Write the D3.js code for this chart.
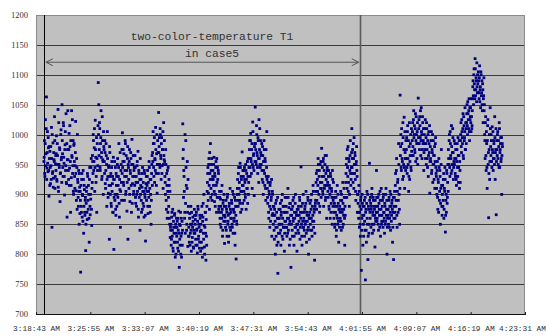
<!DOCTYPE html>
<html>
<head>
<meta charset="utf-8">
<script src="https://cdn.jsdelivr.net/npm/d3@7"></script>
<style>
  body { margin: 0; background: #fff; }
</style>
</head>
<body>
<script>
// tick labels of the time axis (every 7:12)
var xTickLabels = ['3:18:43 AM', '3:25:55 AM', '3:33:07 AM', '3:40:19 AM', '3:47:31 AM',
                   '3:54:43 AM', '4:01:55 AM', '4:09:07 AM', '4:16:19 AM', '4:23:31 AM'];
var yTicks = [700, 750, 800, 850, 900, 950, 1000, 1050, 1100, 1150, 1200];

// two vertical marker lines (start / end of case5)
var markerTimes = ['3:19:46 AM', '4:01:37 AM'];
var titleLines = ['two-color-temperature T1', 'in case5'];

// T1 readings, every 4 s starting at 3:19:46, 12 readings per row
var firstReading = '3:19:46 AM';
var readingStep = 4;
var t1 = [
  955, 990, 930, 1025, 968, 1063, 944, 1005, 938, 978, 897, 960,
  972, 918, 948, 1012, 845, 935, 986, 927, 958, 1030, 910, 951,
  940, 998, 922, 965, 1042, 905, 950, 978, 888, 936, 1008, 962,
  1050, 968, 930, 1015, 952, 899, 983, 940, 1035, 918, 862, 975,
  958, 925, 1002, 944, 980, 870, 915, 1040, 962, 935, 990, 900,
  985, 930, 948, 1022, 906, 960, 875, 925, 895, 940, 850, 912,
  905, 770, 880, 925, 862, 898, 940, 835, 915, 870, 890, 806,
  885, 912, 858, 930, 875, 900, 820, 945, 866, 892, 960, 848,
  920, 955, 1000, 940, 978, 905, 1024, 962, 930, 870, 985, 948,
  1087, 1050, 975, 1010, 940, 995, 962, 925, 1030, 958, 900, 980,
  955, 990, 918, 940, 965, 880, 1005, 930, 902, 948, 825, 970,
  900, 935, 880, 955, 918, 870, 962, 808, 925, 890, 945, 865,
  915, 880, 950, 895, 930, 985, 862, 908, 845, 940, 920, 975,
  1003, 955, 920, 968, 890, 940, 985, 905, 930, 872, 960, 825,
  945, 910, 975, 888, 935, 960, 870, 992, 918, 950, 900, 940,
  930, 965, 895, 920, 880, 948, 905, 972, 862, 935, 910, 840,
  900, 925, 870, 912, 945, 885, 905, 862, 935, 895, 822, 918,
  890, 915, 940, 868, 905, 955, 880, 925, 900, 850, 935, 965,
  970, 1005, 945, 985, 920, 958, 1012, 935, 968, 902, 990, 950,
  1037, 980, 950, 1010, 965, 925, 995, 948, 975, 910, 1020, 958,
  955, 920, 975, 890, 935, 860, 905, 945, 880, 915, 850, 828,
  840, 815, 862, 830, 875, 805, 845, 820, 868, 795, 850, 835,
  830, 855, 810, 840, 872, 778, 825, 848, 800, 860, 835, 815,
  1018, 975, 940, 905, 870, 835, 990, 915, 850, 955, 813, 880,
  845, 820, 868, 835, 880, 805, 850, 828, 862, 812, 840, 875,
  835, 858, 815, 870, 842, 802, 880, 825, 850, 810, 865, 838,
  850, 820, 880, 795, 862, 835, 900, 812, 845, 870, 790, 830,
  880, 920, 945, 902, 960, 875, 935, 985, 910, 950, 890, 925,
  940, 915, 962, 888, 930, 900, 955, 870, 920, 945, 895, 935,
  880, 905, 860, 892, 845, 870, 915, 830, 885, 865, 900, 818,
  862, 845, 890, 875, 830, 900, 855, 820, 880, 868, 910, 840,
  870, 890, 850, 905, 835, 875, 860, 895, 815, 880, 792, 855,
  900, 925, 880, 945, 910, 890, 952, 870, 930, 905, 971, 885,
  915, 940, 890, 925, 900, 950, 875, 935, 910, 885, 960, 920,
  960, 990, 930, 1002, 955, 975, 910, 1021, 945, 968, 898, 985,
  1046, 975, 950, 1000, 965, 935, 990, 920, 960, 1010, 945, 970,
  950, 985, 925, 965, 900, 940, 975, 915, 955, 890, 930, 1005,
  910, 885, 930, 860, 900, 845, 920, 875, 895, 830, 905, 868,
  850, 880, 825, 865, 800, 845, 890, 815, 860, 768, 835, 875,
  860, 835, 885, 815, 870, 850, 900, 825, 845, 880, 805, 855,
  870, 845, 895, 830, 860, 910, 840, 878, 815, 855, 885, 778,
  850, 875, 830, 890, 860, 815, 870, 845, 900, 835, 865, 805,
  865, 840, 880, 855, 895, 825, 870, 946, 850, 815, 885, 845,
  845, 870, 830, 880, 855, 905, 820, 865, 840, 890, 800, 860,
  860, 885, 840, 875, 900, 830, 855, 915, 845, 870, 790, 880,
  890, 920, 875, 940, 905, 960, 885, 930, 870, 950, 910, 895,
  977, 930, 905, 955, 880, 940, 915, 965, 895, 925, 860, 945,
  920, 895, 940, 875, 910, 860, 930, 885, 905, 850, 925, 890,
  870, 895, 845, 880, 905, 830, 865, 915, 850, 885, 820, 875,
  880, 860, 905, 840, 890, 870, 920, 850, 875, 895, 815, 865,
  920, 950, 895, 975, 930, 905, 960, 880, 940, 990, 915, 945,
  1010, 960, 935, 985, 910, 950, 970, 925, 890, 955, 940, 870,
  900, 870, 915, 845, 880, 830, 895, 773, 860, 885, 815, 850,
  865, 890, 840, 757, 875, 820, 905, 850, 791, 880, 835, 952,
  870, 895, 845, 880, 910, 835, 865, 890, 850, 875, 812, 860,
  880, 940, 855, 870, 895, 840, 885, 865, 905, 830, 875, 850,
  865, 890, 845, 900, 870, 835, 880, 855, 910, 875, 800, 860,
  875, 850, 895, 860, 905, 840, 880, 865, 890, 820, 870, 791,
  880, 905, 860, 935, 890, 960, 845, 920, 870, 985, 900, 850,
  1066, 980, 945, 1010, 960, 925, 995, 950, 1029, 910, 970, 940,
  960, 995, 935, 1015, 950, 905, 980, 925, 965, 1000, 940, 972,
  990, 1020, 965, 1040, 1000, 975, 1010, 955, 1030, 985, 1005, 950,
  1061, 1010, 985, 1030, 995, 965, 1045, 1000, 975, 1020, 990, 940,
  1000, 975, 1025, 985, 950, 1010, 960, 990, 930, 1005, 970, 902,
  980, 955, 1005, 940, 970, 920, 990, 950, 965, 910, 985, 945,
  930, 900, 955, 875, 920, 960, 890, 940, 850, 910, 975, 880,
  900, 880, 925, 860, 910, 945, 837, 890, 870, 935, 895, 950,
  975, 950, 1000, 930, 985, 960, 1015, 940, 970, 995, 925, 955,
  950, 985, 930, 960, 915, 975, 945, 995, 920, 965, 910, 940,
  990, 1020, 970, 1005, 985, 1035, 960, 1015, 995, 1045, 975, 1010,
  1020, 1050, 1000, 1035, 1010, 1060, 990, 1025, 1045, 1005, 1030, 1015,
  1060, 1090, 1050, 1110, 1075, 1127, 1065, 1095, 1055, 1080, 1100, 1070,
  1090, 1060, 1115, 1075, 1045, 1100, 1070, 1050, 1085, 1020, 1065, 1040,
  1000, 960, 1030, 940, 985, 910, 1015, 950, 861, 975, 925, 1045,
  980, 1000, 955, 1013, 970, 940, 990, 960, 1030, 925, 975, 866,
  990, 965, 1005, 950, 980, 1020, 945, 975, 995, 960, 900, 985
];

// the readings in between (every 4 s starting at 3:19:48)
var firstReadingB = '3:19:48 AM';
var t1b = [
  962, 935, 985, 948, 1010, 925, 970, 952, 995, 940, 980, 915,
  945, 980, 925, 960, 1000, 938, 912, 970, 955, 990, 930, 965,
  968, 925, 985, 950, 912, 1020, 945, 975, 935, 1000, 958, 920,
  990, 945, 1020, 962, 930, 975, 1005, 948, 920, 985, 958, 1040,
  940, 975, 915, 1015, 955, 990, 928, 965, 1025, 948, 905, 982,
  955, 910, 970, 935, 890, 945, 1000, 920, 880, 905, 935, 868,
  890, 915, 870, 935, 900, 855, 925, 880, 908, 865, 895, 850,
  905, 870, 935, 890, 915, 860, 925, 880, 900, 945, 875, 910,
  965, 935, 990, 955, 1010, 945, 975, 920, 995, 960, 940, 1015,
  1000, 965, 1020, 945, 985, 1040, 970, 930, 990, 955, 1005, 975,
  935, 970, 910, 985, 950, 925, 960, 895, 945, 915, 980, 930,
  915, 885, 945, 905, 930, 870, 925, 895, 955, 900, 875, 935,
  930, 900, 960, 915, 945, 885, 925, 970, 905, 950, 890, 935,
  945, 975, 915, 955, 930, 990, 900, 965, 940, 920, 980, 950,
  925, 955, 900, 940, 970, 915, 950, 885, 930, 965, 905, 945,
  915, 945, 885, 930, 900, 955, 920, 875, 940, 895, 925, 960,
  915, 890, 935, 875, 905, 920, 880, 940, 900, 865, 910, 930,
  905, 930, 880, 920, 895, 945, 910, 870, 925, 890, 950, 915,
  955, 985, 930, 995, 960, 940, 975, 915, 1000, 950, 970, 935,
  970, 995, 945, 1000, 960, 985, 935, 975, 1005, 950, 965, 990,
  930, 900, 950, 875, 915, 940, 870, 895, 925, 860, 905, 845,
  850, 825, 870, 840, 810, 855, 835, 865, 820, 845, 800, 860,
  845, 820, 860, 805, 835, 850, 815, 870, 830, 795, 855, 840,
  960, 895, 930, 860, 1000, 885, 945, 840, 910, 870, 925, 830,
  830, 860, 815, 850, 840, 870, 820, 845, 855, 810, 835, 865,
  850, 825, 865, 840, 815, 855, 875, 830, 845, 820, 860, 805,
  840, 865, 810, 855, 885, 825, 848, 800, 870, 835, 858, 815,
  905, 935, 890, 950, 915, 970, 925, 895, 940, 960, 900, 930,
  925, 950, 905, 935, 880, 945, 915, 960, 895, 925, 940, 875,
  870, 895, 850, 880, 905, 860, 875, 840, 890, 855, 880, 865,
  855, 880, 840, 870, 895, 850, 865, 830, 885, 845, 875, 860,
  860, 885, 845, 875, 900, 855, 870, 835, 890, 865, 880, 850,
  910, 890, 935, 900, 920, 885, 945, 905, 925, 875, 915, 940,
  930, 905, 945, 920, 895, 940, 925, 910, 955, 930, 900, 945,
  975, 945, 990, 960, 935, 985, 950, 1005, 965, 940, 980, 955,
  985, 955, 1015, 970, 945, 995, 960, 1025, 975, 950, 990, 965,
  965, 940, 980, 920, 955, 990, 935, 960, 910, 975, 945, 925,
  895, 920, 870, 905, 880, 915, 855, 890, 925, 865, 900, 880,
  865, 840, 875, 855, 885, 830, 870, 845, 895, 820, 860, 850,
  850, 875, 840, 865, 890, 830, 860, 880, 845, 870, 835, 895,
  855, 880, 845, 870, 835, 895, 860, 850, 885, 825, 865, 875,
  865, 840, 880, 855, 895, 830, 860, 885, 845, 870, 850, 875,
  850, 875, 835, 865, 890, 845, 860, 880, 830, 870, 855, 900,
  860, 840, 875, 850, 885, 835, 870, 855, 895, 845, 865, 825,
  870, 850, 890, 860, 840, 880, 865, 905, 855, 875, 835, 885,
  905, 935, 890, 925, 915, 950, 900, 940, 880, 920, 955, 910,
  920, 945, 900, 960, 930, 910, 950, 890, 935, 965, 915, 940,
  905, 930, 880, 915, 900, 935, 870, 910, 895, 940, 880, 920,
  860, 885, 850, 870, 895, 840, 880, 860, 900, 855, 875, 845,
  870, 890, 855, 900, 875, 845, 885, 865, 910, 860, 880, 895,
  935, 960, 910, 945, 980, 920, 955, 900, 965, 935, 925, 970,
  945, 975, 920, 960, 995, 935, 965, 905, 950, 980, 930, 900,
  885, 860, 905, 870, 850, 890, 875, 840, 900, 865, 880, 830,
  880, 855, 895, 870, 840, 885, 860, 900, 830, 875, 850, 890,
  860, 885, 875, 900, 850, 870, 895, 840, 880, 865, 890, 855,
  870, 895, 860, 880, 850, 900, 875, 845, 890, 865, 910, 855,
  880, 855, 895, 870, 860, 885, 850, 900, 865, 890, 845, 875,
  865, 890, 845, 880, 870, 900, 855, 885, 875, 845, 895, 860,
  895, 870, 915, 880, 940, 865, 905, 925, 890, 950, 875, 910,
  965, 1000, 940, 985, 955, 1020, 930, 975, 945, 1005, 960, 990,
  975, 945, 1005, 960, 990, 930, 1020, 955, 985, 945, 1010, 965,
  1005, 980, 1025, 995, 1015, 970, 1035, 990, 1000, 960, 1020, 985,
  995, 1025, 975, 1015, 1040, 990, 1005, 960, 1030, 985, 1010, 970,
  985, 1010, 960, 995, 1020, 975, 945, 1000, 965, 985, 1015, 955,
  960, 990, 935, 975, 1000, 950, 965, 925, 980, 955, 995, 935,
  910, 940, 895, 925, 870, 945, 905, 930, 885, 950, 915, 865,
  915, 890, 935, 875, 905, 925, 865, 900, 940, 885, 920, 905,
  960, 990, 945, 1005, 965, 935, 980, 950, 1010, 970, 945, 990,
  960, 935, 975, 925, 955, 985, 930, 965, 945, 990, 955, 920,
  1000, 980, 1025, 995, 1010, 965, 1030, 990, 1005, 975, 1020, 985,
  1035, 1015, 1055, 1025, 1040, 1005, 1045, 1030, 1020, 1060, 1010, 1040,
  1080, 1065, 1100, 1085, 1060, 1110, 1075, 1090, 1120, 1070, 1085, 1105,
  1070, 1095, 1055, 1080, 1105, 1065, 1090, 1040, 1075, 1060, 1095, 1050,
  990, 1020, 965, 1005, 945, 990, 1025, 970, 935, 1000, 955, 1010,
  965, 990, 945, 975, 1005, 960, 985, 950, 995, 970, 1010, 955,
  975, 1000, 960, 990, 945, 1010, 970, 985, 955, 995, 965, 980
];

var w = 546;
var h = 336;
var padLeft = 36, padRight = 525, padTop = 15, padBottom = 314;
var dot = 2.8;

var parseTime = d3.timeParse('%I:%M:%S %p');

function toRows(values, first) {
  var start = parseTime(first);
  return values.map(function(v, i) {
    return { time: d3.timeSecond.offset(start, i * readingStep), value: v };
  });
}
var dataset = toRows(t1, firstReading).concat(toRows(t1b, firstReadingB));

var xScale = d3.scaleTime()
  .domain([parseTime(xTickLabels[0]), parseTime(xTickLabels[xTickLabels.length - 1])])
  .range([padLeft, padRight]);

var yScale = d3.scaleLinear()
  .domain([700, 1200])
  .range([padBottom, padTop]);

var svg = d3.select('body')
  .append('svg')
  .attr('width', w)
  .attr('height', h);

// plot background
svg.append('rect')
  .attr('x', padLeft)
  .attr('y', padTop)
  .attr('width', padRight - padLeft)
  .attr('height', padBottom - padTop)
  .attr('fill', '#c0c0c0');

// horizontal grid lines
svg.selectAll('line.grid')
  .data(yTicks.slice(1, -1))
  .enter()
  .append('line')
  .attr('class', 'grid')
  .attr('x1', padLeft)
  .attr('x2', padRight)
  .attr('y1', function(d) { return Math.round(yScale(d)) + 0.5; })
  .attr('y2', function(d) { return Math.round(yScale(d)) + 0.5; })
  .attr('stroke', '#3a3a3a')
  .attr('stroke-width', 1);

// border
svg.append('rect')
  .attr('x', padLeft + 0.5)
  .attr('y', padTop + 0.5)
  .attr('width', padRight - padLeft - 1)
  .attr('height', padBottom - padTop)
  .attr('fill', 'none')
  .attr('stroke', '#8a8a8a');

// marker lines
svg.selectAll('line.marker')
  .data(markerTimes)
  .enter()
  .append('line')
  .attr('class', 'marker')
  .attr('x1', function(d) { return Math.round(xScale(parseTime(d))) + 0.5; })
  .attr('x2', function(d) { return Math.round(xScale(parseTime(d))) + 0.5; })
  .attr('y1', padTop)
  .attr('y2', padBottom)
  .attr('stroke', function(d, i) { return i == 0 ? '#000' : '#5a5a5a'; })
  .attr('stroke-width', function(d, i) { return i == 0 ? 1 : 1.6; });

// points
svg.selectAll('rect.pt')
  .data(dataset)
  .enter()
  .append('rect')
  .attr('class', 'pt')
  .attr('x', function(d) { return xScale(d.time) - dot / 2; })
  .attr('y', function(d) { return yScale(d.value) - dot / 2; })
  .attr('width', dot)
  .attr('height', dot)
  .attr('fill', '#000080');

// x axis
var xAxis = d3.axisBottom(xScale)
  .tickValues(xTickLabels.map(parseTime))
  .tickFormat(d3.timeFormat('%-I:%M:%S %p'))
  .tickSize(3)
  .tickSizeOuter(0);

var gx = svg.append('g')
  .attr('transform', 'translate(0,' + (padBottom - 2) + ')')
  .call(xAxis);
gx.select('.domain').remove();
gx.selectAll('line').attr('stroke', '#222');
gx.selectAll('text')
  .attr('dy', null)
  .attr('y', 19)
  .attr('dx', function(d, i) { return i == xTickLabels.length - 1 ? -3 : 0; })
  .attr('fill', '#333')
  .attr('font-family', 'Liberation Mono, monospace')
  .attr('font-size', '7.8px');

svg.append('line')
  .attr('x1', padLeft)
  .attr('x2', padRight + 1)
  .attr('y1', padBottom + 0.5)
  .attr('y2', padBottom + 0.5)
  .attr('stroke', '#111');

// y labels
svg.selectAll('text.ylab')
  .data(yTicks)
  .enter()
  .append('text')
  .attr('class', 'ylab')
  .text(function(d) { return d; })
  .attr('x', 28)
  .attr('y', function(d) { return yScale(d) + 3; })
  .attr('text-anchor', 'end')
  .attr('fill', '#333')
  .attr('font-family', 'Liberation Serif, serif')
  .attr('font-size', '8.5px');

// annotation: title and arrow
var ax1 = xScale(parseTime(markerTimes[0])) + 2;
var ax2 = xScale(parseTime(markerTimes[1])) - 1;
var ay = yScale(1121);

svg.selectAll('text.title')
  .data(titleLines)
  .enter()
  .append('text')
  .attr('class', 'title')
  .text(function(d) { return d; })
  .attr('x', 212)
  .attr('y', function(d, i) { return 40 + i * 17; })
  .attr('text-anchor', 'middle')
  .attr('fill', '#333')
  .attr('font-family', 'Liberation Mono, monospace')
  .attr('font-size', '11.3px');

svg.append('line')
  .attr('x1', ax1)
  .attr('x2', ax2)
  .attr('y1', ay)
  .attr('y2', ay)
  .attr('stroke', '#555');

svg.append('path')
  .attr('d', 'M' + (ax1 + 7) + ',' + (ay - 3.5) + 'L' + ax1 + ',' + ay + 'L' + (ax1 + 7) + ',' + (ay + 3.5)
     + 'M' + (ax2 - 7) + ',' + (ay - 3.5) + 'L' + ax2 + ',' + ay + 'L' + (ax2 - 7) + ',' + (ay + 3.5))
  .attr('fill', 'none')
  .attr('stroke', '#555');
</script>
</body>
</html>
